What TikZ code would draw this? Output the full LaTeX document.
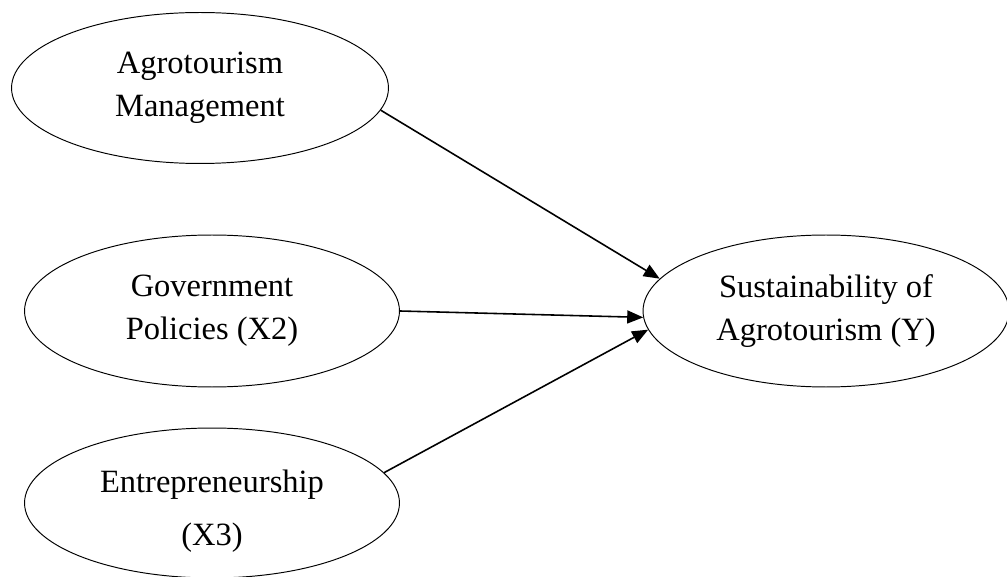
\documentclass[tikz,border=0pt]{standalone}
\usepackage{fontspec}
\setmainfont{Liberation Serif}
\usetikzlibrary{arrows.meta,shapes.geometric}

\begin{document}
\begin{tikzpicture}[x=0.02cm,y=-0.02cm,
  var/.style={draw,ellipse,line width=0.55pt,inner sep=0pt,align=center,
    font=\fontsize{18.5}{24.5}\selectfont},
  path/.style={-{Triangle[length=0.32cm,width=0.26cm]},line width=0.9pt}]
\useasboundingbox (0,0) rectangle (1007,577);
\node[var,minimum width=7.54cm,minimum height=3.02cm] (ag) at (200,88) {Agrotourism\\Management};
\node[var,minimum width=7.5cm,minimum height=3.04cm] (gp) at (212,311) {Government\\Policies (X2)};
\node[var,minimum width=7.5cm,minimum height=3cm] (en) at (212,503) {};
\node[font=\fontsize{18.5}{24.5}\selectfont,align=center] (entext) at (212,511) {Entrepreneurship\\[0.2cm](X3)};
\node[var,minimum width=7.32cm,minimum height=3.04cm] (sus) at (826,311) {Sustainability of\\Agrotourism (Y)};
\draw[path] (ag.-7) -- (sus.169);
\draw[path] (gp.0) -- (sus.182);
\draw[path] (en.10) -- (sus.186);
\end{tikzpicture}
\end{document}
